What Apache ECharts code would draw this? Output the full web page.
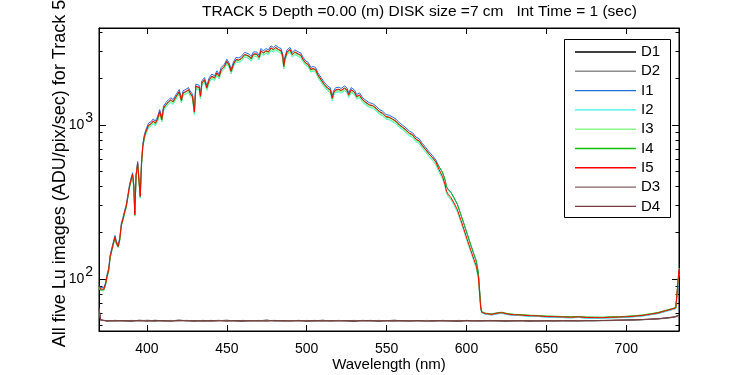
<!DOCTYPE html>
<html><head><meta charset="utf-8">
<script src="https://cdn.jsdelivr.net/npm/echarts@6/dist/echarts.min.js"></script>
<style>html,body{margin:0;padding:0;background:#fff}#c{width:750px;height:375px}</style>
</head><body><div id="c"></div>
<script>
// Wavelength grid (nm) for the five image spectra
const W = [370,371,372,373,374,375,376,377,378,379,
380,381,382,383,384,385,386,387,388,389,
390,391,391.8,392.4,393.2,394.2,395.2,395.8,396.6,397.4,
398.4,399.4,401,402.5,404,405.2,406.6,408,409.3,410.4,
411.8,413.5,415,416.4,418,420.2,421.6,422.6,424.3,426,
427,428.5,429.7,430.6,431.6,432.7,433.5,434.4,436,437.5,
439,440.6,442.3,443.8,445.2,446.5,448.5,450,451.5,452.7,
454.2,455.7,457.3,459,461.1,462.5,464,465.2,466.7,468.7,
470.2,471.4,472.9,474.4,476,477.7,479.1,480.6,482.3,483.9,
485,485.6,486.4,487.7,489.5,491,492.6,494.7,496.3,497.8,
499.3,500.9,502.6,504,505.5,507,509.1,511.2,513.2,514.7,
516,516.8,518,520.1,521.5,523.6,525.1,526.3,527.8,529.9,
531.3,533,535.1,537.1,539.2,541.3,543.4,545.5,547.5,549.6,
551.7,553.8,555.9,558,560,562.1,564.2,566.3,568.3,570.4,
572.5,574.6,576.6,578.7,580.8,582.9,585,586.6,587.5,588.7,
590.2,592.2,594.3,596.4,598.5,600.5,602.6,604.7,606.2,607.4,
608.2,608.9,609.5,612,616,619,622,626,630,635,
640,645,650,655,660,665,670,675,680,685,
690,695,700,705,710,715,720,725,728,731,733];

const I1 = [91,88,86,88,94,107,117,143,159,156,
192,174,167,186,231,251,278,303,348,404,
450,490,410,270,481,580,594,355,573,748,
868,937,1030,1050,1098,1061,1127,1262,1122,1329,
1396,1462,1504,1463,1566,1700,1494,1669,1702,1751,
1669,1586,1257,1844,1833,1813,1589,1936,2034,1803,
2034,2142,2091,2251,2142,2365,2486,2678,2524,2307,
2575,2747,2730,2786,2959,2936,2884,2786,2987,2987,
2843,3142,3028,3142,3080,3270,3193,3296,3193,3142,
2884,2486,2791,3080,3193,2966,3080,2987,2936,2747,
2616,2554,2369,2400,2369,2184,2027,1883,1790,1751,
1542,1669,1746,1761,1730,1792,1751,1619,1751,1689,
1579,1619,1503,1447,1396,1380,1328,1262,1231,1171,
1159,1127,1092,1034,999,960,915,891,837,814,
757,712,670,634,594,535,492,440,398,380,
366,337,305,263,226,195,167,144,129,110,
84,66,61.2,59.1,58.6,59.4,60.1,58.8,58.1,57.9,
57.3,57.2,56.8,56.5,56.3,56.1,56.4,55.9,55.8,55.9,
56.1,56.3,56.5,57.0,57.6,58.7,59.8,61.9,63.1,64.5,110];

const I2 = [88,85,83,85,90,102,112,137,152,149,
184,167,160,178,221,240,266,290,333,387,
430,466,390,256,458,550,563,335,543,706,
814,876,961,980,1024,989,1050,1176,1047,1238,
1301,1363,1402,1363,1459,1584,1392,1555,1586,1632,
1555,1478,1171,1718,1709,1690,1481,1805,1896,1680,
1896,1997,1949,2098,1997,2204,2317,2496,2352,2150,
2400,2560,2544,2597,2758,2736,2688,2597,2784,2784,
2650,2928,2822,2928,2870,3048,2976,3072,2976,2928,
2688,2317,2602,2870,2976,2765,2870,2784,2736,2560,
2438,2381,2208,2237,2208,2035,1889,1755,1668,1632,
1437,1555,1627,1642,1613,1670,1632,1509,1632,1574,
1472,1509,1401,1349,1301,1286,1237,1176,1147,1092,
1080,1050,1018,964,931,895,852,830,780,758,
706,663,624,590,552,493,448,398,360,342,
328,302,273,236,203,175,151,130,117,101,
79,64,60.2,59.0,58.5,59.5,60.0,58.7,58.2,57.8,
57.2,57.1,56.6,56.4,56.2,56.0,56.3,55.8,55.7,55.6,
56.0,56.1,56.4,56.9,57.5,58.6,59.8,61.8,63.0,64.4,108];

const I3 = [88,84,82,84,90,102,112,137,152,149,
184,167,160,178,221,240,267,290,333,387,
431,468,392,257,461,553,567,338,549,715,
820,883,970,989,1034,999,1061,1188,1057,1251,
1314,1377,1416,1377,1474,1600,1406,1571,1602,1649,
1571,1494,1183,1736,1727,1707,1497,1824,1916,1698,
1916,2018,1969,2119,2018,2227,2342,2522,2377,2173,
2425,2587,2570,2624,2787,2765,2716,2624,2813,2813,
2677,2959,2852,2959,2900,3080,3007,3104,3007,2959,
2716,2342,2629,2900,3007,2794,2900,2813,2765,2587,
2464,2406,2231,2260,2231,2056,1909,1773,1686,1649,
1452,1571,1644,1659,1630,1688,1649,1525,1649,1591,
1487,1525,1415,1363,1314,1300,1250,1188,1159,1103,
1091,1061,1028,974,941,904,861,839,789,766,
713,670,631,597,558,503,455,402,364,346,
332,306,276,238,205,176,152,131,119,102,
80,65,61.0,59.8,59.2,60.2,60.7,59.5,58.8,58.6,
58.0,57.9,57.4,57.2,57.0,56.7,57.1,56.6,56.5,56.4,
56.8,56.9,57.2,57.7,58.3,59.4,60.6,62.7,63.9,65.3,118];

const I4 = [89,85,83,85,91,103,113,139,154,151,
186,169,162,181,224,243,270,294,337,392,
436,474,397,260,466,561,575,342,556,724,
838,902,991,1011,1057,1021,1085,1214,1080,1279,
1343,1408,1448,1408,1507,1636,1438,1606,1638,1686,
1606,1527,1210,1775,1765,1745,1530,1864,1958,1735,
1958,2062,2013,2166,2062,2276,2393,2578,2429,2221,
2479,2644,2627,2682,2849,2826,2776,2682,2876,2876,
2736,3024,2915,3024,2965,3148,3074,3173,3074,3024,
2776,2393,2687,2965,3074,2856,2965,2876,2826,2644,
2518,2459,2280,2310,2280,2102,1951,1812,1723,1686,
1484,1606,1681,1696,1666,1725,1686,1559,1686,1626,
1520,1559,1447,1393,1343,1329,1278,1215,1185,1128,
1116,1085,1051,996,962,924,881,858,806,784,
731,688,648,614,578,535,495,440,398,380,
366,337,306,264,227,196,168,145,131,111,
86,67,61.5,60.0,59.4,60.4,60.9,59.6,59.0,58.7,
58.2,58.0,57.5,57.4,57.1,56.9,57.2,56.7,56.6,56.5,
56.9,57.0,57.3,57.8,58.4,59.5,60.7,62.8,64.0,65.4,114];

const I5 = [90,86,84,86,92,104,114,140,155,152,
188,170,163,182,226,245,272,296,340,395,
440,478,400,262,470,566,580,345,560,730,
845,910,1000,1020,1066,1030,1094,1225,1090,1290,
1355,1420,1460,1420,1520,1650,1450,1620,1652,1700,
1620,1540,1220,1790,1780,1760,1543,1880,1975,1750,
1975,2080,2030,2185,2080,2296,2414,2600,2450,2240,
2500,2667,2650,2705,2873,2850,2800,2705,2900,2900,
2760,3050,2940,3050,2990,3175,3100,3200,3100,3050,
2800,2414,2710,2990,3100,2880,2990,2900,2850,2667,
2540,2480,2300,2330,2300,2120,1968,1828,1738,1700,
1497,1620,1695,1710,1680,1740,1700,1572,1700,1640,
1533,1572,1459,1405,1355,1340,1289,1225,1195,1137,
1125,1094,1060,1004,970,932,888,865,813,790,
735,691,650,615,575,513,464,410,371,353,
339,312,282,243,209,180,155,134,121,104,
81,65,60.8,59.6,59.0,60.0,60.5,59.2,58.6,58.3,
57.8,57.6,57.1,57.0,56.7,56.5,56.8,56.3,56.2,56.1,
56.5,56.6,56.9,57.4,58.0,59.1,60.3,62.4,63.6,65.0,116];

// Wavelength grid (nm) for the four dark spectra
const DW = [370,371,375,380,385,390,395,400,405,410,
415,420,425,430,435,440,445,450,455,460,
465,470,475,480,485,490,495,500,505,510,
515,520,525,530,535,540,545,550,555,560,
565,570,575,580,585,590,595,600,605,610,
615,620,625,630,635,640,645,650,655,660,
665,670,675,680,685,690,695,700,705,710,
715,720,725,730,733];

const D1 = [64.5,54.2,53.4,53.9,53.6,53.2,54.0,53.7,53.3,53.8,
53.5,54.1,53.6,53.3,53.9,53.4,53.7,54.0,53.5,53.2,
53.8,53.6,54.1,53.4,53.7,53.5,53.9,53.3,53.6,54.0,
53.4,53.8,53.5,53.2,53.9,53.6,53.3,53.7,54.0,53.5,
53.4,53.8,53.6,53.3,53.9,53.5,53.2,53.7,53.6,53.4,
53.9,53.5,53.3,53.7,53.6,53.2,53.8,53.5,53.4,53.6,
53.6,53.5,53.7,53.6,53.8,53.9,54.0,54.1,54.3,54.5,
54.8,55.2,55.8,56.6,58.0];
const D2 = [63.8,54.0,53.7,53.3,53.8,53.5,53.4,54.1,53.6,53.2,
53.9,53.4,53.7,53.8,53.2,53.6,54.0,53.3,53.7,53.5,
53.3,53.9,53.5,53.8,53.2,53.7,53.4,53.9,53.5,53.3,
53.8,53.5,53.7,53.9,53.3,53.4,53.8,53.5,53.2,53.7,
53.6,53.3,53.9,53.5,53.4,53.8,53.6,53.3,53.7,53.5,
53.4,53.7,53.6,53.3,53.8,53.5,53.4,53.7,53.3,53.5,
53.4,53.7,53.5,53.8,53.6,53.7,53.9,54.0,54.2,54.4,
54.7,55.0,55.6,56.4,57.6];
const D3 = [65.0,54.4,53.5,53.7,53.3,53.9,53.6,53.4,54.0,53.5,
53.3,53.7,53.9,53.5,53.6,53.2,53.8,53.6,53.4,53.9,
53.6,53.3,53.7,53.9,53.4,53.8,53.5,53.6,53.2,53.7,
53.5,53.9,53.3,53.6,53.7,53.4,53.9,53.5,53.6,53.3,
53.8,53.5,53.4,53.7,53.6,53.3,53.9,53.5,53.4,53.8,
53.5,53.3,53.8,53.6,53.4,53.7,53.5,53.3,53.8,53.6,
53.5,53.8,53.6,53.7,53.9,53.8,54.1,54.2,54.4,54.6,
54.9,55.3,55.9,56.8,58.3];
const D4 = [64.8,54.3,53.6,53.4,53.8,53.5,53.7,53.3,53.9,53.6,
53.4,53.8,53.5,53.7,53.3,53.9,53.5,53.4,53.8,53.6,
53.5,53.7,53.3,53.8,53.6,53.4,53.7,53.5,53.9,53.4,
53.7,53.4,53.8,53.5,53.6,53.9,53.4,53.6,53.5,53.8,
53.5,53.7,53.3,53.8,53.5,53.6,53.4,53.9,53.5,53.7,
53.6,53.8,53.4,53.5,53.7,53.6,53.3,53.8,53.5,53.7,
53.7,53.5,53.8,53.7,53.8,54.0,54.1,54.2,54.4,54.6,
54.9,55.3,56.0,56.7,58.2];

const NAMES = ['D1','D2','I1','I2','I3','I4','I5','D3','D4'];
const COLORS = ['#000000','#8c8c8c','#1e6fdc','#33f0f0','#8cf88c','#12c012','#ff0000','#806060','#7a3c3c'];
const X_TICKS = [400,450,500,550,600,650,700];
const Y_MAJOR = [100,1000];
const Y_MINOR = [50,60,70,80,90,200,300,400,500,600,700,800,900,2000,3000,4000];
const TITLE = 'TRACK 5 Depth =0.00 (m) DISK size =7 cm   Int Time = 1 (sec)';
const X_NAME = 'Wavelength (nm)';
const Y_NAME = 'All five Lu images (ADU/pix/sec) for Track 5';

const FONT = '"Liberation Sans",Arial,sans-serif';
const XMIN = 370, XMAX = 733, YMIN = 46, YMAX = 4270;

const seriesData = {
  D1: [DW, D1], D2: [DW, D2], I1: [W, I1], I2: [W, I2], I3: [W, I3],
  I4: [W, I4], I5: [W, I5], D3: [DW, D3], D4: [DW, D4]
};

const chart = echarts.init(document.getElementById('c'), null, {renderer: 'canvas'});

function yAxisDef(pos, ticks, len, showLabel, showLine) {
  return {
    type: 'log', logBase: 10, min: YMIN, max: YMAX, position: pos,
    axisLine: {show: showLine, lineStyle: {color: '#000', width: 1}},
    axisTick: {show: true, inside: true, length: len, customValues: ticks, lineStyle: {color: '#000'}},
    axisLabel: {show: showLabel, customValues: Y_MAJOR, margin: 6,
      formatter: v => '{b|10}{s|' + Math.round(Math.log10(v)) + '}',
      rich: {b: {fontFamily: FONT, fontSize: 14, color: '#000'},
             s: {fontFamily: FONT, fontSize: 14, color: '#000', padding: [0, 0, 14, 1]}}},
    splitLine: {show: false}, minorTick: {show: false}
  };
}

const option = {
  animation: false,
  backgroundColor: '#fff',
  title: {text: TITLE, left: 202, top: 4, padding: 0,
    textStyle: {fontFamily: FONT, fontSize: 15.5, fontWeight: 'normal', color: '#000'}},
  grid: {left: 99, right: 71, top: 28, bottom: 44, show: true, borderColor: '#000', borderWidth: 1,
    containLabel: false, outerBoundsMode: 'none'},
  graphic: [{type: 'rect', z: 10, silent: true,
    shape: {x: 564.5, y: 39.5, width: 106, height: 178},
    style: {fill: 'none', stroke: '#000', lineWidth: 1}}],
  legend: {
    orient: 'vertical', left: 564, top: 39, data: NAMES, icon: 'rect',
    itemWidth: 61, itemHeight: 1.4, itemGap: 4.3, padding: [5.5, 4, 4, 11],
    borderWidth: 0, backgroundColor: '#fff', borderRadius: 0,
    textStyle: {fontFamily: FONT, fontSize: 15, color: '#000'}
  },
  xAxis: [
    {type: 'value', min: XMIN, max: XMAX, position: 'bottom', splitNumber: 7,
     name: X_NAME, nameLocation: 'middle', nameGap: 26, nameMoveOverlap: false,
     nameTextStyle: {fontFamily: FONT, fontSize: 15, color: '#000'},
     axisLine: {lineStyle: {color: '#000'}},
     axisTick: {inside: true, length: 6, customValues: X_TICKS, lineStyle: {color: '#000'}},
     axisLabel: {customValues: X_TICKS, fontFamily: FONT, fontSize: 14, color: '#000', margin: 11},
     splitLine: {show: false}},
    {type: 'value', min: XMIN, max: XMAX, position: 'top',
     axisLine: {lineStyle: {color: '#000'}},
     axisTick: {inside: true, length: 6, customValues: X_TICKS, lineStyle: {color: '#000'}},
     axisLabel: {show: false}, splitLine: {show: false}}
  ],
  yAxis: [
    Object.assign(yAxisDef('left', Y_MAJOR, 7, true, true), {
      name: Y_NAME, nameLocation: 'middle', nameGap: 30, nameRotate: 90, nameMoveOverlap: false,
      nameTextStyle: {fontFamily: FONT, fontSize: 18, color: '#000', padding: [0, 0, 0, 12]}}),
    yAxisDef('right', Y_MAJOR, 7, false, true),
    yAxisDef('left', Y_MINOR, 3.5, false, false),
    yAxisDef('right', Y_MINOR, 3.5, false, false)
  ],
  series: NAMES.map((n, i) => ({
    name: n, type: 'line', xAxisIndex: 0, yAxisIndex: 0,
    data: seriesData[n][0].map((w, k) => [w, seriesData[n][1][k]]),
    symbol: 'none', showSymbol: false, clip: true,
    lineStyle: {color: COLORS[i], width: 1}, itemStyle: {color: COLORS[i]},
    emphasis: {disabled: true}
  }))
};
chart.setOption(option);
</script></body></html>
